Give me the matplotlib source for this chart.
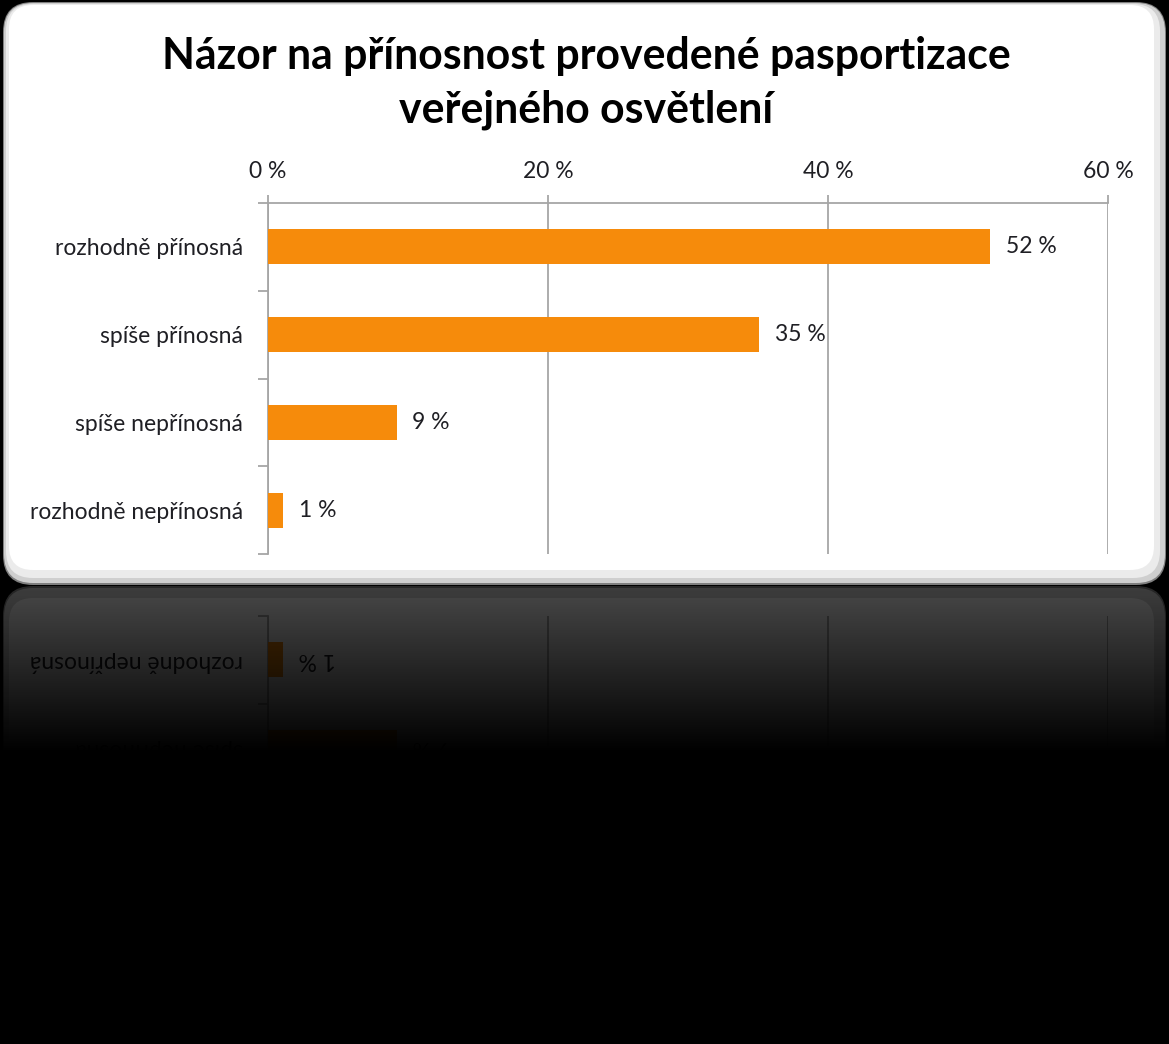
import numpy as np
import matplotlib
matplotlib.use("Agg")
import matplotlib.pyplot as plt
from matplotlib.patches import FancyBboxPatch
from matplotlib.ticker import FixedLocator, FuncFormatter

# ---- data ----
categories = ["rozhodně přínosná", "spíše přínosná", "spíše nepřínosná", "rozhodně nepřínosná"]
values = [51.6, 35.1, 9.2, 1.1]
xticks = [0, 20, 40, 60]
title = "Názor na přínosnost provedené pasportizace\nveřejného osvětlení"

plt.rcParams['font.family'] = ['Lato', 'DejaVu Sans']

W, H = 1169, 1044
BAR = '#F68B0B'
TXT = '#1f1f24'
GRID = '#A6A6A6'
FS = 16.5

fig = plt.figure(figsize=(W / 100, H / 100), dpi=100, facecolor='black')

# background axes in pixel coordinates
bg = fig.add_axes([0, 0, 1, 1], zorder=0)
bg.set_xlim(0, W)
bg.set_ylim(H, 0)
bg.axis('off')

def rrect(ax, x0, y0, x1, y1, r, color, z=0):
    p = FancyBboxPatch((x0, y0), x1 - x0, y1 - y0,
                       boxstyle=f"round,pad=0,rounding_size={r}",
                       facecolor=color, edgecolor='none', zorder=z)
    ax.add_patch(p)

# main panel with bevel
rrect(bg, 3, 2, 1166, 585, 30, '#7f7f7f', 1)
rrect(bg, 4, 3, 1165, 583, 29, '#cfcfcf', 2)
rrect(bg, 6, 4, 1160, 578, 27, '#ebebeb', 3)
rrect(bg, 9, 5, 1154, 570, 24, 'white', 4)

# reflected panel
rrect(bg, 3, 586, 1166, 1170, 30, '#8a8a8a', 1)
rrect(bg, 4, 588, 1165, 1170, 29, '#d8d8d8', 2)
rrect(bg, 9, 598, 1154, 1170, 24, 'white', 3)

def px_axes(x0, y0, x1, y1, z):
    return fig.add_axes([x0 / W, 1 - y1 / H, (x1 - x0) / W, (y1 - y0) / H], zorder=z)

y = np.arange(len(categories))

# ---- reflection axes ----
rax = px_axes(268, 616, 1108, 967, 1)
rax.set_facecolor('none')
rax.barh(y, values, height=0.4, color=BAR, zorder=3)
rax.set_xlim(0, 60)
rax.set_ylim(-0.5, len(categories) - 0.5)
for s in ['top', 'right', 'bottom']:
    rax.spines[s].set_visible(False)
rax.spines['left'].set_color(GRID)
rax.spines['left'].set_linewidth(1.3)
rax.xaxis.set_major_locator(FixedLocator(xticks))
rax.grid(axis='x', color=GRID, linewidth=1.3, zorder=0)
rax.set_axisbelow(True)
rax.tick_params(axis='x', length=0, labelbottom=False)
rax.set_yticks(y)
rax.set_yticklabels(categories, rotation=180, fontsize=FS, color=TXT)
rax.yaxis.set_minor_locator(FixedLocator(np.arange(-0.5, len(categories), 1.0)))
rax.tick_params(axis='y', which='major', length=0, pad=18)
rax.tick_params(axis='y', which='minor', length=7, width=1.3, color=GRID)
for yi, v in zip(y, values):
    rax.annotate(f"{v:.0f} %", (v, yi), xytext=(11, 0), textcoords='offset points',
                 ha='left', va='center', rotation=180, fontsize=FS, color=TXT)

# ---- fading overlay ----
ov = fig.add_axes([0, 0, 1, 1], zorder=2)
ov.set_xlim(0, W)
ov.set_ylim(H, 0)
ov.axis('off')
ys = np.arange(585, H + 1)
t = np.clip((ys - 585) / 165.0, 0, 1)
alpha = 1 - 0.28 * (1 - t)
grad = np.zeros((len(ys), 1, 4))
grad[:, 0, 3] = alpha
ov.imshow(grad, extent=(0, W, H, 585), aspect='auto', interpolation='bilinear')
ov.set_xlim(0, W)
ov.set_ylim(H, 0)

# ---- main axes ----
ax = px_axes(268, 203, 1108, 554, 3)
ax.set_facecolor('none')
ax.barh(y, values, height=0.4, color=BAR, zorder=3)
ax.set_xlim(0, 60)
ax.set_ylim(-0.5, len(categories) - 0.5)
ax.invert_yaxis()
for s in ['right', 'bottom']:
    ax.spines[s].set_visible(False)
for s in ['top', 'left']:
    ax.spines[s].set_color(GRID)
    ax.spines[s].set_linewidth(1.3)
ax.xaxis.tick_top()
ax.xaxis.set_major_locator(FixedLocator(xticks))
ax.xaxis.set_major_formatter(FuncFormatter(lambda v, p: f"{v:.0f} %"))
ax.tick_params(axis='x', length=6, width=1.3, color=GRID, pad=9,
               labelsize=FS, labelcolor=TXT)
ax.grid(axis='x', color=GRID, linewidth=1.3, zorder=0)
ax.set_axisbelow(True)
ax.set_yticks(y)
ax.set_yticklabels(categories, fontsize=FS, color=TXT)
ax.yaxis.set_minor_locator(FixedLocator(np.arange(-0.5, len(categories), 1.0)))
ax.tick_params(axis='y', which='major', length=0, pad=18)
ax.tick_params(axis='y', which='minor', length=7, width=1.3, color=GRID)
for yi, v in zip(y, values):
    ax.annotate(f"{v:.0f} %", (v, yi), xytext=(11, 0), textcoords='offset points',
                ha='left', va='center', fontsize=FS, color=TXT)

fig.text(586 / W, 1 - 83 / H, title, ha='center', va='center', fontsize=30.8,
         fontweight='bold', color='black', linespacing=1.4, zorder=5)

fig.savefig('out.png', dpi=100, facecolor='black')
